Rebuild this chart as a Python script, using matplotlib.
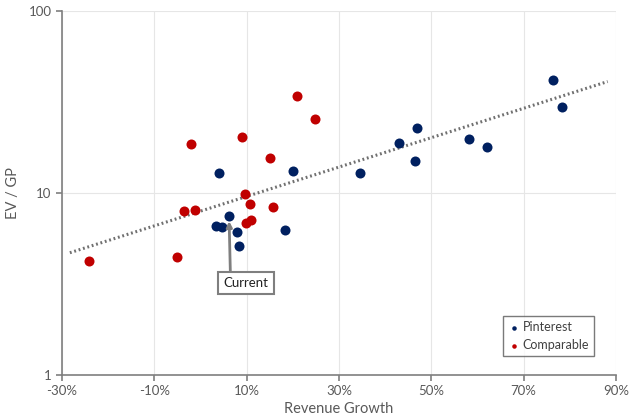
import numpy as np
import matplotlib
matplotlib.use('Agg')
import matplotlib.pyplot as plt
from matplotlib.ticker import FixedLocator, NullLocator

# revenue growth (%) and EV/GP
pin_x = [76.3, 78.3, 47.0, 43.0, 46.4, 58.2, 62.1, 34.5, 20.0, 18.4, 4.1, 6.2, 3.4, 4.7, 8.0, 8.4]
pin_y = [41.9, 29.8, 22.8, 18.8, 15.0, 19.8, 17.8, 12.9, 13.2, 6.24, 12.9, 7.45, 6.56, 6.54, 6.13, 5.13]
comp_x = [21.0, 24.9, -2.1, 9.0, 15.0, 9.7, 10.7, 15.6, -3.6, -1.3, 10.9, 9.9, -5.2, -24.2]
comp_y = [34.0, 25.5, 18.7, 20.2, 15.6, 9.92, 8.73, 8.38, 7.96, 8.1, 7.08, 6.84, 4.43, 4.23]
trend_x = [-28.3, 88.2]
xticks = [-30, -10, 10, 30, 50, 70, 90]
yticks = [1, 10, 100]

plt.rcParams['font.family'] = ['Lato', 'DejaVu Sans']
fig = plt.figure(figsize=(6.4, 4.18), dpi=100)
ax = fig.add_axes([0.0969, 0.1029, 0.8656, 0.8708])

gray = '#595959'
# exponential trendline fit through all points
allx = np.array(pin_x + comp_x)
ally = np.array(pin_y + comp_y)
k, b = np.polyfit(allx, np.log10(ally), 1)
tx = np.array(trend_x)
ax.plot(tx, 10 ** (k * tx + b), color='#707070', lw=2.2, ls=(0, (0.6, 0.9)), zorder=2)

ax.scatter(pin_x, pin_y, s=52, color='#002060', label='Pinterest', zorder=3, linewidths=0)
ax.scatter(comp_x, comp_y, s=52, color='#C00000', label='Comparable', zorder=3, linewidths=0)

ax.set_yscale('log')
ax.set_xlim(-30, 90)
ax.set_ylim(1, 100)
ax.xaxis.set_major_locator(FixedLocator(xticks))
ax.set_xticklabels([f'{t}%' for t in xticks])
ax.yaxis.set_major_locator(FixedLocator(yticks))
ax.yaxis.set_minor_locator(NullLocator())
ax.set_yticklabels([str(t) for t in yticks])
ax.grid(True, color='#e6e6e6', lw=0.8, zorder=0)
ax.set_axisbelow(True)
for s in ['top', 'right']:
    ax.spines[s].set_visible(False)
for s in ['left', 'bottom']:
    ax.spines[s].set_color('#7f7f7f')
    ax.spines[s].set_linewidth(1.2)
ax.tick_params(colors='#7f7f7f', labelcolor=gray, labelsize=9.5, length=4, width=1.2)
ax.set_xlabel('Revenue Growth', color=gray, fontsize=10.5, labelpad=3)
ax.set_ylabel('EV / GP', color=gray, fontsize=10.5)
ax.yaxis.set_label_coords(-0.075, 0.5)

ax.annotate('Current', xy=(6.2, 7.0), xytext=(9.9, 3.2), fontsize=9.5, color='#222222',
            ha='center', va='center',
            bbox=dict(boxstyle='square,pad=0.4', fc='white', ec='#7f7f7f', lw=1.5),
            arrowprops=dict(arrowstyle='-|>', color='#7f7f7f', lw=2, relpos=(0.15, 1.0),
                            mutation_scale=8, shrinkA=0, shrinkB=0))

leg = ax.legend(loc='lower right', bbox_to_anchor=(0.965, 0.045), fontsize=9, frameon=True,
                fancybox=False, handletextpad=0.1, markerscale=0.45, borderpad=0.4,
                labelspacing=0.5, handlelength=1.1, borderaxespad=0.2)
leg.get_frame().set_edgecolor(gray)
leg.get_frame().set_linewidth(1)
for t in leg.get_texts():
    t.set_color('#404040')

fig.savefig('out.png', dpi=100)
